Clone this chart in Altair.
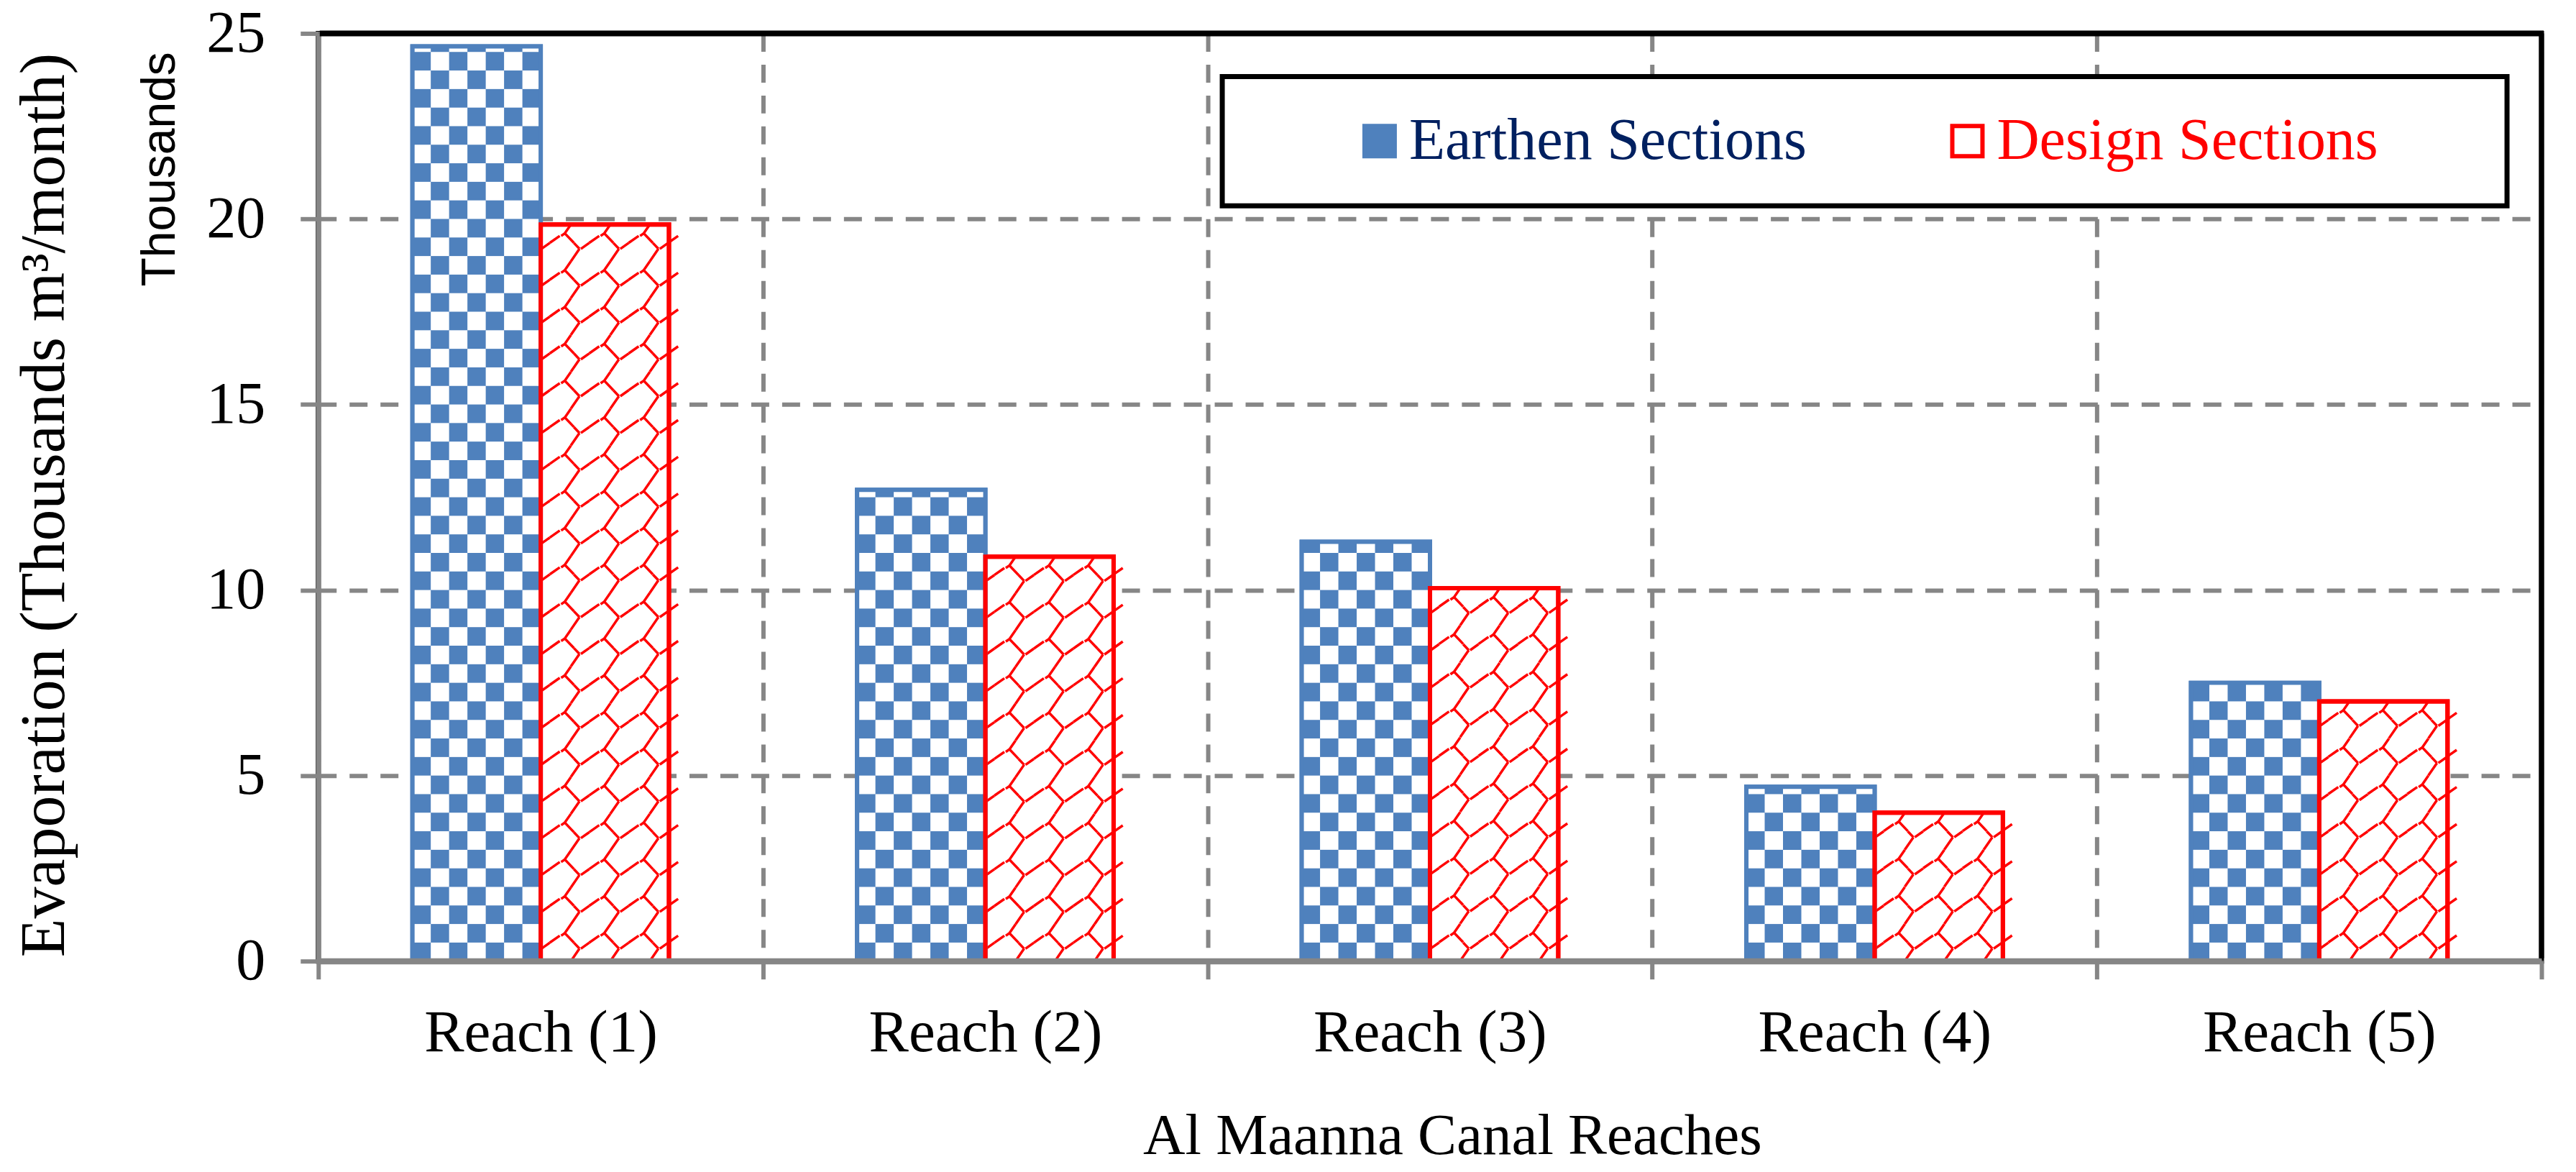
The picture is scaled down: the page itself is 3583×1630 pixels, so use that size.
import math
import altair as alt
import pandas as pd

# ---------------- data ----------------
reaches = ["Reach (1)", "Reach (2)", "Reach (3)", "Reach (4)", "Reach (5)"]
series_names = ["Earthen Sections", "Design Sections"]
earthen = [24.65, 12.7, 11.3, 4.7, 7.5]
design = [19.85, 10.9, 10.05, 4.0, 7.0]
y_ticks = [0, 5, 10, 15, 20, 25]

# ---------------- style ----------------
W, H = 3094, 1291
BLUE = "#4F81BD"
RED = "#FF0000"
GRAY = "#868686"
NAVY = "#002060"
SERIF = "Liberation Serif"
NCOL = 7          # pattern columns per bar
CELL = 0.5        # pattern cell height in data units

rows = []
for r, e, d in zip(reaches, earthen, design):
    rows.append({"reach": r, "series": series_names[0], "value": e})
    rows.append({"reach": r, "series": series_names[1], "value": d})
bars = pd.DataFrame(rows)

subs = [f"E{j}" for j in range(NCOL)] + [f"D{j}" for j in range(NCOL)]

# checkerboard (white cells laid over blue bars)
checker = []
for r, e in zip(reaches, earthen):
    n = int(math.ceil(e / CELL))
    for i in range(n):
        for j in range(NCOL):
            if (i + j) % 2 == 1:
                checker.append({"reach": r, "sub": f"E{j}", "y0": i * CELL,
                                "y1": min((i + 1) * CELL, e)})
checker = pd.DataFrame(checker)

# shingle pattern (red line symbols inside red bars)
pattern = []
for r, d in zip(reaches, design):
    n = max(1, round(d / CELL))
    h = d / n
    for i in range(n):
        for j in range(NCOL):
            quad = ("T" if i % 2 == 1 else "B") + ("L" if j % 2 == 0 else "R")
            pattern.append({"reach": r, "sub": f"D{j}", "yc": (i + 0.5) * h, "quad": quad})
pattern = pd.DataFrame(pattern)

quad_names = ["TL", "TR", "BL", "BR"]
quad_paths = [
    "M -0.088 1 L 1 0.24",
    "M -1 0.24 L -0.6 -0.04 L 0.392 1 M -0.6 -0.04 L 0.064 -1",
    "M -1 -0.36 L -0.088 -1",
    "M 0.392 -1 L 1 -0.36 M 0.064 1 L 1 -0.36",
]

one = pd.DataFrame({"k": [0]})

Y_TITLE = "Evaporation (Thousands m³/month)"

x_axis = alt.Axis(
    tickBand="extent", grid=True, gridColor=GRAY, gridDash=[25, 18], gridWidth=6,
    domain=True, domainColor=GRAY, domainWidth=8,
    ticks=True, tickColor=GRAY, tickWidth=6, tickSize=25,
    labelFont=SERIF, labelFontSize=83, labelColor="black", labelAngle=0,
    labelPadding=100, labelBaseline="alphabetic", labelLimit=1000,
    titleFont=SERIF, titleFontSize=81, titleFontWeight="normal", titleColor="black",
    titleX=1578, titleY=268, titleBaseline="alphabetic", titleAlign="center",
)
y_axis = alt.Axis(
    values=y_ticks, grid=True, gridColor=GRAY, gridDash=[25, 18], gridWidth=6,
    domain=True, domainColor=GRAY, domainWidth=7,
    ticks=True, tickColor=GRAY, tickWidth=6, tickSize=25,
    labelFont=SERIF, labelFontSize=82, labelColor="black", labelPadding=49,
    titleFont=SERIF, titleFontSize=88, titleFontWeight="normal", titleColor="black",
    titleX=-354, titleY=656, titleAngle=270, titleAlign="center", titleBaseline="alphabetic",
)

x_scale = alt.Scale(domain=reaches, paddingInner=0, paddingOuter=0)
y_scale = alt.Scale(domain=[0, 25], nice=False, zero=True)


def X():
    return alt.X("reach:N", sort=reaches, scale=x_scale, axis=x_axis,
                 title="Al Maanna Canal Reaches")


def Y(field):
    return alt.Y(field, scale=y_scale, axis=y_axis, title=Y_TITLE)


bar_off = alt.XOffset("series:N", sort=series_names,
                      scale=alt.Scale(domain=series_names, range=[131, 488],
                                      paddingInner=0, paddingOuter=0))
sub_off = alt.XOffset("sub:N", sort=subs,
                      scale=alt.Scale(domain=subs, range=[131, 488],
                                      paddingInner=0, paddingOuter=0))

legend = alt.Legend(
    orient="none", legendX=1436, legendY=109, direction="horizontal", title=None,
    symbolType="square", symbolSize=1764, symbolStrokeWidth=6,
    labelFont=SERIF, labelFontSize=82, labelOffset=0, labelLimit=1000,
    columnPadding=182, padding=0,
    labelColor={"expr": f"datum.value === '{series_names[0]}' ? '{NAVY}' : '{RED}'"},
)

base_bars = alt.Chart(bars).mark_bar(strokeWidth=6).encode(
    x=X(), xOffset=bar_off, y=Y("value:Q"),
    fill=alt.Fill("series:N", sort=series_names,
                  scale=alt.Scale(domain=series_names, range=[BLUE, "#FFFFFF"]),
                  legend=legend, title=None),
    stroke=alt.Stroke("series:N", sort=series_names,
                      scale=alt.Scale(domain=series_names, range=[BLUE, RED]),
                      legend=legend, title=None),
)

checker_layer = alt.Chart(checker).mark_bar(fill="#FFFFFF", strokeWidth=0).encode(
    x=X(), xOffset=sub_off, y=Y("y0:Q"), y2="y1:Q",
)

pattern_layer = alt.Chart(pattern).mark_point(
    filled=False, stroke=RED, strokeWidth=3.5, size=650, opacity=1
).encode(
    x=X(), xOffset=sub_off, y=Y("yc:Q"),
    shape=alt.Shape("quad:N", scale=alt.Scale(domain=quad_names, range=quad_paths), legend=None),
)

outline = alt.Chart(bars).mark_bar(fill="transparent", strokeWidth=6).encode(
    x=X(), xOffset=bar_off, y=Y("value:Q"),
    stroke=alt.condition(f"datum.series === '{series_names[0]}'", alt.value(BLUE), alt.value(RED)),
)

x_line = alt.Chart(one).mark_rule(color=GRAY, strokeWidth=8).encode(
    x=alt.value(0), x2=alt.value(W), y=alt.value(H)
)

top_border = alt.Chart(one).mark_rule(color="black", strokeWidth=8).encode(
    x=alt.value(2), x2=alt.value(W + 3), y=alt.value(0)
)
right_border = alt.Chart(one).mark_rule(color="black", strokeWidth=7).encode(
    x=alt.value(W), y=alt.value(0), y2=alt.value(H - 4)
)

legend_box = alt.Chart(one).mark_rect(fill="white", stroke="black", strokeWidth=7).encode(
    x=alt.value(1258), x2=alt.value(3046), y=alt.value(60), y2=alt.value(240)
)

units = alt.Chart(one).mark_text(
    font="Liberation Sans", fontSize=66, angle=270, align="center", baseline="alphabetic",
    color="black"
).encode(x=alt.value(-200), y=alt.value(189), text=alt.value("Thousands"))

chart = alt.layer(
    base_bars, checker_layer, pattern_layer, outline, x_line,
    top_border, right_border, legend_box, units
).resolve_scale(
    xOffset="independent"
).properties(
    width=W, height=H, autosize="none",
    padding={"left": 435, "top": 38, "right": 40, "bottom": 290},
).configure(
    font=SERIF, background="white"
).configure_view(
    stroke="black", strokeWidth=7
)

chart.save("out.html", embed_options={"renderer": "svg", "actions": False})
